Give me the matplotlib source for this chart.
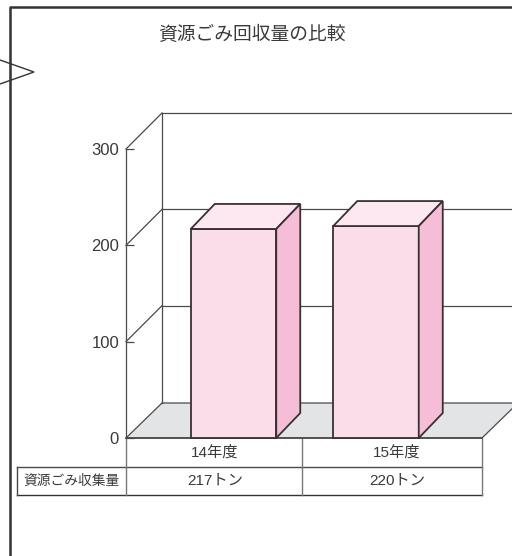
import matplotlib
matplotlib.use("Agg")
import matplotlib.pyplot as plt
from matplotlib.lines import Line2D
from matplotlib.patches import Polygon

plt.rcParams['font.family'] = ['Liberation Sans', 'Noto Sans CJK JP', 'DejaVu Sans']

# datos
TITLE = "資源ごみ回収量の比較"
years = ["14年度", "15年度"]
values = [217, 220]
value_labels = ["217トン", "220トン"]
row_label = "資源ごみ収集量"
y_ticks = [0, 100, 200, 300]

W, H = 512, 556
TEXT = "#3a3a3a"
LINE = "#4a4a4a"

fig = plt.figure(figsize=(W / 100, H / 100), dpi=100, facecolor="white")
ax = fig.add_axes([126 / W, (H - 438) / H, 356 / W, 289 / H])
ax.set_xlim(-0.5, 1.5)
ax.set_ylim(0, 300)
ax.patch.set_alpha(0)

# unidades de datos por pixel
px = 2 / 356
py = 300 / 289
wall_dx, wall_dy = 36 * px, 36 * py
bar_dx, bar_dy = 24 * px, 25 * py
bar_w = 85.5 * px
bar_offset = [18.5 * px, -17 * px]  # perspectiva: las barras no van centradas en la celda
label_offset = [0, 4 * px]

# suelo
floor_dy = 35 * py
ax.add_patch(Polygon([(-0.5, 0), (1.5, 0), (1.5 + wall_dx, floor_dy), (-0.5 + wall_dx, floor_dy)],
                     closed=True, fc="#e3e4e5", ec=LINE, lw=0.9, clip_on=False, zorder=1))

# pared del fondo y rejilla
x_back = -0.5 + wall_dx
ax.plot([x_back, x_back], [floor_dy, 300 + wall_dy], color=LINE, lw=0.9, clip_on=False, zorder=1)
for v in y_ticks[1:]:
    ax.plot([-0.5, x_back], [v, v + wall_dy], color=LINE, lw=0.9, clip_on=False, zorder=1)
    ax.plot([x_back, 1.5 + wall_dx], [v + wall_dy, v + wall_dy], color=LINE, lw=0.9, clip_on=False, zorder=1)

# barras
for i, v in enumerate(values):
    x0 = i + bar_offset[i] - bar_w / 2
    x1 = x0 + bar_w
    ec = "#3a3034"
    ax.bar(x0, v, width=bar_w, align="edge", color="#fbdde9", edgecolor=ec, lw=1.3, zorder=3, clip_on=False)
    ax.add_patch(Polygon([(x0, v), (x1, v), (x1 + bar_dx, v + bar_dy), (x0 + bar_dx, v + bar_dy)],
                         closed=True, fc="#fde8f1", ec=ec, lw=1.3, clip_on=False, zorder=3))
    ax.add_patch(Polygon([(x1, 0), (x1 + bar_dx, bar_dy), (x1 + bar_dx, v + bar_dy), (x1, v)],
                         closed=True, fc="#f6bdd7", ec=ec, lw=1.3, clip_on=False, zorder=3))

# ejes
for s in ["top", "right", "bottom"]:
    ax.spines[s].set_visible(False)
ax.spines["left"].set_color(LINE)
ax.spines["left"].set_linewidth(0.9)
ax.set_xticks([])
ax.set_yticks(y_ticks)
ax.tick_params(axis="y", direction="in", length=6, width=0.9, color=LINE, labelcolor=TEXT,
               labelsize=12, pad=5)

# tabla de datos
row1 = -29 * py
row2 = -57 * py
x_left = -0.5 - 109 * px
ax.plot([x_left, 1.5], [row1, row1], color=LINE, lw=1, clip_on=False)
ax.plot([x_left, 1.5], [row2, row2], color="#333333", lw=1, clip_on=False)
ax.plot([x_left, x_left], [row1, row2], color=LINE, lw=1, clip_on=False)
for xv in [-0.5, 0.5 - 2 * px, 1.5]:
    ax.plot([xv, xv], [0, row2], color="#777777", lw=1, clip_on=False)
ax.plot([-0.5, 1.5], [0, 0], color=LINE, lw=1.2, clip_on=False, zorder=2)
for i, (yr, lab) in enumerate(zip(years, value_labels)):
    ax.text(i + label_offset[i], row1 / 2, yr, ha="center", va="center", fontsize=11, color=TEXT, clip_on=False)
    ax.text(i + label_offset[i], (row1 + row2) / 2, lab, ha="center", va="center", fontsize=11, color=TEXT, clip_on=False)
ax.text(-0.5 - 55 * px, (row1 + row2) / 2, row_label, ha="center", va="center", fontsize=9.9,
        color=TEXT, clip_on=False)

# titulo
fig.text(252 / W, 1 - 35 / H, TITLE, ha="center", va="center", fontsize=13.5, color=TEXT)

# marco y flecha del bocadillo
fig.add_artist(Line2D([1, 9.5 / W, 9.5 / W], [1 - 6.5 / H, 1 - 6.5 / H, 0], color="#333333", lw=1.8))
fig.add_artist(Polygon([(0, 1 - 60 / H), (34 / W, 1 - 72 / H), (0, 1 - 84 / H)], closed=False,
                       transform=fig.transFigure, fc="white", ec="#333333", lw=1))

fig.savefig("out.png", dpi=100)
